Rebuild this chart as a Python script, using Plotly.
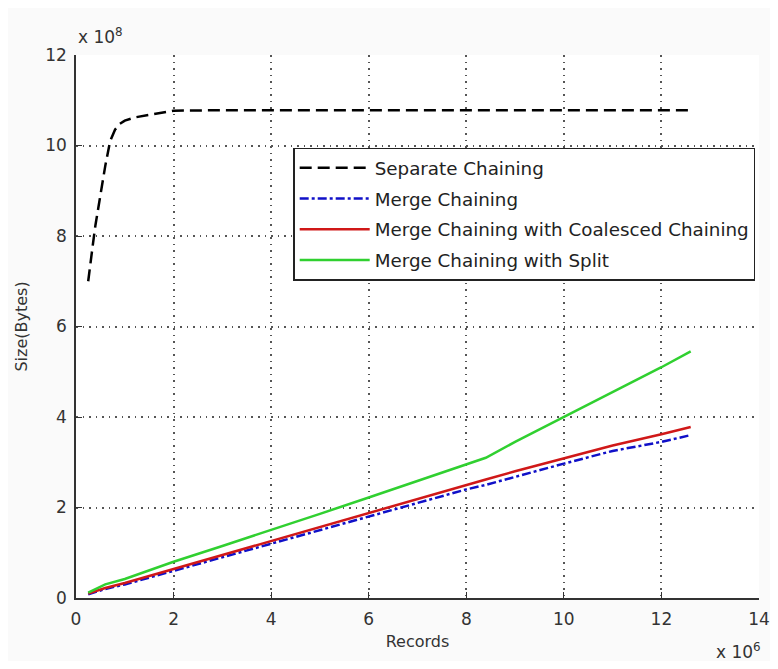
import plotly.graph_objects as go

# Records (x 10^6) and Size (x 10^8 bytes)
sep_x = [0.25, 0.3, 0.35, 0.4, 0.5, 0.6, 0.7, 0.8, 0.9, 1.0, 1.2, 1.5, 1.8, 2.0, 3.0, 4.0, 6.0, 8.0, 10.0, 12.6]
sep_y = [7.0, 7.5, 7.85, 8.25, 8.95, 9.55, 10.1, 10.35, 10.48, 10.55, 10.62, 10.67, 10.72, 10.77, 10.78, 10.78, 10.78, 10.78, 10.78, 10.78]

lin_x = [0.25, 0.6, 1.0, 2.0, 3.0, 4.0, 5.0, 6.0, 7.0, 8.0, 8.4, 9.0, 10.0, 11.0, 12.0, 12.6]
merge_y = [0.08, 0.2, 0.3, 0.6, 0.9, 1.2, 1.5, 1.8, 2.1, 2.4, 2.5, 2.68, 2.97, 3.25, 3.45, 3.6]
coalesced_y = [0.1, 0.22, 0.33, 0.64, 0.95, 1.27, 1.57, 1.88, 2.2, 2.5, 2.62, 2.8, 3.08, 3.37, 3.62, 3.78]
split_y = [0.12, 0.3, 0.42, 0.8, 1.15, 1.5, 1.86, 2.22, 2.58, 2.95, 3.1, 3.45, 4.0, 4.55, 5.1, 5.45]

x_ticks = [0, 2, 4, 6, 8, 10, 12, 14]
y_ticks = [0, 2, 4, 6, 8, 10, 12]

FONT = "DejaVu Sans"

fig = go.Figure()
fig.add_trace(go.Scatter(x=sep_x, y=sep_y, mode="lines", name="Separate Chaining", legendgroup="a",
                         line=dict(color="black", width=2.5, dash="12px,6px")))
fig.add_trace(go.Scatter(x=lin_x, y=merge_y, mode="lines", name="Merge Chaining", legendgroup="b",
                         line=dict(color="#1010c8", width=2.5, dash="dashdot")))
fig.add_trace(go.Scatter(x=lin_x, y=coalesced_y, mode="lines", name="Merge Chaining with Coalesced Chaining", legendgroup="c",
                         line=dict(color="#d01818", width=2.5)))
fig.add_trace(go.Scatter(x=lin_x, y=split_y, mode="lines", name="Merge Chaining with Split", legendgroup="d",
                         line=dict(color="#30d030", width=2.5)))

axis_common = dict(showgrid=True, gridcolor="#555", griddash="1.5px,5px", gridwidth=1.5,
                   showline=True, linecolor="#333", linewidth=1.5, mirror=False,
                   ticks="inside", ticklen=6, tickcolor="#333", zeroline=False,
                   automargin=False,
                   tickfont=dict(family=FONT, size=17, color="#333"))

fig.update_xaxes(range=[0, 14], tickvals=x_ticks, ticklabelstandoff=5, **axis_common,
                 title=dict(text="Records", font=dict(family=FONT, size=16, color="#333"), standoff=8))
fig.update_yaxes(range=[0, 12], tickvals=y_ticks, ticklabelstandoff=4, **axis_common,
                 title=dict(text="Size(Bytes)", font=dict(family=FONT, size=16, color="#333"), standoff=14))

fig.add_annotation(text="x 10<sup>8</sup>", xref="paper", yref="paper", x=0.0, y=1.0, xanchor="left",
                   yanchor="bottom", showarrow=False, font=dict(family=FONT, size=17, color="#333"), yshift=6)
fig.add_annotation(text="x 10<sup>6</sup>", xref="paper", yref="paper", x=1.0, y=0.0, xanchor="right",
                   yanchor="top", showarrow=False, font=dict(family=FONT, size=17, color="#333"),
                   yshift=-40, xshift=4)

fig.update_layout(
    width=770, height=653,
    margin=dict(l=68, r=19, t=47, b=63),
    paper_bgcolor="#fafafa", plot_bgcolor="white",
    showlegend=True,
    legend=dict(x=0.318, y=0.829, xanchor="left", yanchor="top",
                bgcolor="white", bordercolor="#222", borderwidth=1.5,
                font=dict(family=FONT, size=18.3, color="#222"),
                itemwidth=70, tracegroupgap=4, traceorder="grouped"),
)

fig.write_html("out.html")
